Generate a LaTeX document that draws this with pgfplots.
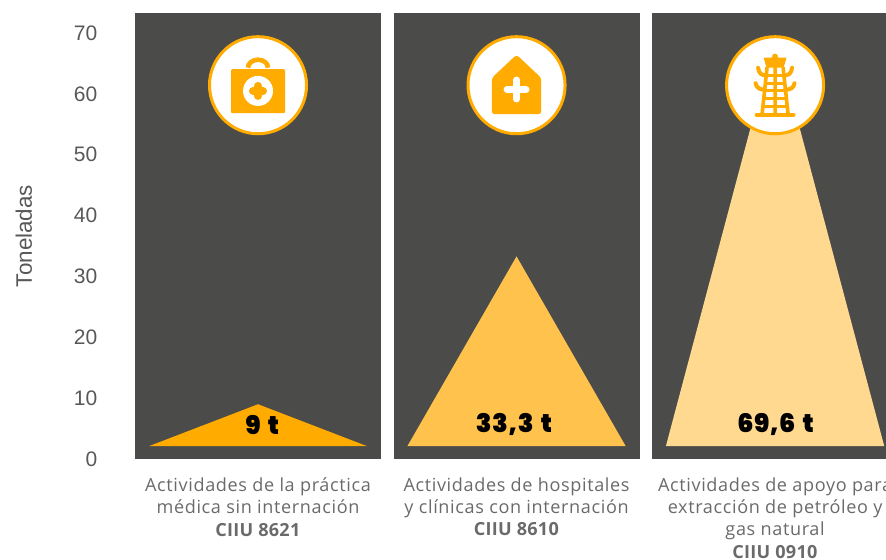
\documentclass[border=0pt]{standalone}
\usepackage{fontspec}
\usepackage{pgfplots}
\pgfplotsset{compat=1.18}
\setmainfont[LetterSpace=3.5,BoldFeatures={LetterSpace=1.5}]{Open Sans}
\newfontfamily\arialf{Liberation Sans}
\newfontfamily\blackf[LetterSpace=2,WordSpace=1.5]{Poppins Black}
\definecolor{panel}{HTML}{4B4B4A}
\definecolor{oa}{HTML}{FFAB00}
\definecolor{ob}{HTML}{FFC34D}
\definecolor{oc}{HTML}{FFD990}
\definecolor{lab}{HTML}{6A6A6A}
\definecolor{labb}{HTML}{58585A}
\begin{document}
\begin{tikzpicture}[x=1pt,y=1pt]
\path[use as bounding box] (-101.25,-75.75) rectangle (563.25,344.25);
\begin{axis}[
  scale only axis, width=563.25pt, height=334.5pt,
  xmin=-0.4758, xmax=2.429, ymin=0, ymax=73.3,
  axis line style={draw=none}, tick style={draw=none},
  xtick={0,1,2},
  xticklabels={
    {Actividades de la práctica\\médica sin internación\\\textbf{CIIU 8621}},
    {Actividades de hospitales\\y clínicas con internación\\\textbf{CIIU 8610}},
    {Actividades de apoyo para\\extracción de petróleo y\\gas natural\\\textbf{CIIU 0910}}},
  xticklabel style={align=center, anchor=north, text=lab, yshift=-10.3pt,
    font=\fontsize{13.55}{16.8}\selectfont},
  ytick={0,10,...,70},
  yticklabel style={text=labb, font=\arialf\fontsize{15.75}{18}\selectfont, /pgf/number format/assume math mode=true, anchor=east, xshift=-24.75pt},
  ylabel={Toneladas},
  ylabel style={at={(axis description cs:-0.148,0.5)}, anchor=center, text=labb, font=\arialf\fontsize{16.8}{18}\selectfont},
  clip=true,
]
% panels
\addplot[fill=panel,draw=none] coordinates {(-0.4758,0)(-0.4758,73.3)(0.4758,73.3)(0.4758,0)} -- cycle;
\addplot[fill=panel,draw=none] coordinates {(0.5242,0)(0.5242,73.3)(1.4758,73.3)(1.4758,0)} -- cycle;
\addplot[fill=panel,draw=none] coordinates {(1.5242,0)(1.5242,73.3)(2.4758,73.3)(2.4758,0)} -- cycle;
% triangles
\addplot[fill=oa,draw=none] coordinates {(-0.4224,2.1)(0,9)(0.4224,2.1)} -- cycle;
\addplot[fill=ob,draw=none] coordinates {(0.5776,2.1)(1,33.3)(1.4224,2.1)} -- cycle;
\addplot[fill=oc,draw=none] coordinates {(1.5776,2.1)(2,69.6)(2.4224,2.1)} -- cycle;
% values
\node[font=\blackf\fontsize{19.2}{22}\selectfont] at (axis cs:0.016,5.6) {9 t};
\node[font=\blackf\fontsize{19.2}{22}\selectfont] at (axis cs:0.99,5.6) {33,3 t};
\node[font=\blackf\fontsize{19.2}{22}\selectfont] at (axis cs:2.002,5.6) {69,6 t};
% icon 1
\begin{scope}[shift={(axis cs:0,61.43)},x=0.75pt,y=-0.75pt]
  \fill[white] (0,0) circle (36pt);
  \draw[oa,line width=2.25pt] (0,0) circle (36.4pt);
  \fill[oa,rounded corners=0.8pt] (-27,-16) rectangle (27,28);
  \draw[oa,line width=3.5pt] (-10,-17.5) arc (180:0:7.5pt and 6pt);
  \fill[white] (0,5.7) circle (11.25pt);
  \draw[oa,line width=6pt,line cap=round] (-5,5.7) -- (5,5.7) (0,0.7) -- (0,10.7);
\end{scope}
% icon 2
\begin{scope}[shift={(axis cs:1,61.43)},x=0.75pt,y=-0.75pt]
  \fill[white] (0,0) circle (36pt);
  \draw[oa,line width=2.25pt] (0,0) circle (36.4pt);
  \fill[oa,rounded corners=2.2pt] (-24.7,-7.3) -- (0,-30.5) -- (24.7,-7.3) -- (24.7,29) -- (-24.7,29) -- cycle;
  \draw[white,line width=5.2pt,line cap=round] (-9.5,4.3) -- (9.5,4.3) (0,-5.2) -- (0,13.8);
\end{scope}
% icon 3
\begin{scope}[shift={(axis cs:2,61.43)},x=0.75pt,y=-0.75pt]
  \fill[white] (0,0) circle (36pt);
  \draw[oa,line width=2.25pt] (0,0) circle (36.4pt);
  \fill[oa,rounded corners=0.6pt] (-11.5,-27.7) -- (-2.6,-27.7) -- (-2.6,-29) arc (180:0:1.95pt and 1.95pt) -- (2.6,-27.7) -- (11.5,-27.7) -- (8.5,-17.5) -- (-8.5,-17.5) -- cycle;
  \draw[oa,line width=2.7pt] (-8,-18) -- (-13,29) (8,-18) -- (13,29) (0,-18) -- (0,29);
  \draw[oa,line width=2.4pt] (-9,-9.5) -- (9,-9.5) (-10,-2) -- (10,-2) (-10.5,5.5) -- (10.5,5.5) (-11.5,13) -- (11.5,13) (-12.5,21) -- (12.5,21);
  \draw[oa,line width=3pt,line cap=round] (-17,-17.5) .. controls (-16,-11.5) and (-14,-9.8) .. (-8,-9.8) (17,-17.5) .. controls (16,-11.5) and (14,-9.8) .. (8,-9.8);
  \draw[oa,line width=3pt,line cap=round] (-19.5,-2) .. controls (-18.5,3) and (-15,4.5) .. (-10,4.5) (19.5,-2) .. controls (18.5,3) and (15,4.5) .. (10,4.5);
  \draw[oa,line width=3pt,line cap=round] (-18.5,29.5) -- (18.5,29.5);
\end{scope}
\end{axis}
\end{tikzpicture}
\end{document}
